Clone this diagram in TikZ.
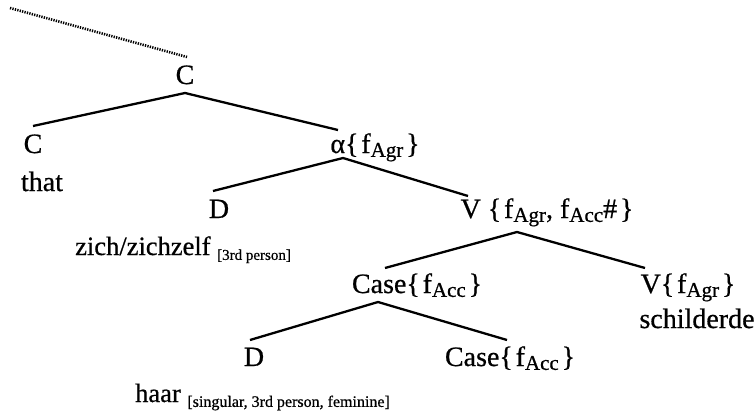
\documentclass[tikz,border=0pt]{standalone}
\usepackage{fontspec}
\setmainfont[FakeBold=0.7]{Liberation Serif}
\newcommand\sbs[1]{\raisebox{-0.3ex}{\fontsize{21}{22}\selectfont #1}}
\newcommand\annot[2]{\raisebox{-0.4ex}{\fontsize{#1}{#1}\selectfont #2}}
\newcommand\lb{\{\hspace{0.1em}}
\newcommand\rb{\hspace{0.1em}\}}
\begin{document}
\begin{tikzpicture}[x=1pt,y=-1pt,
  lab/.style={anchor=base,inner sep=0pt,font=\fontsize{28}{30}\selectfont},
  labw/.style={anchor=base west,inner sep=0pt,font=\fontsize{26.5}{29}\selectfont},
  branch/.style={line width=2.3pt},
  dots/.style={line width=2.6pt,dash pattern=on 1.3pt off 1.2pt}]
\useasboundingbox (0,0) rectangle (754,415);
% labels
\node[lab] (C0) at (185,84) {C};
\node[lab] (C1) at (33,153) {C};
\node[lab] (that) at (42,191) {that};
\node[lab] (al) at (375,153) {α\lb f\sbs{Agr}\rb};
\node[lab] (D1) at (219,218) {D};
\node[labw] (zich) at (75,255) {zich/zichzelf \annot{15}{[3rd person]}};
\node[lab] (V1) at (547,218) {V \lb f\sbs{Agr}, f\sbs{Acc}\#\rb};
\node[lab] (Case1) at (417,293) {Case\lb f\sbs{Acc}\rb};
\node[lab] (V2) at (688,293) {V\lb f\sbs{Agr}\rb};
\node[lab] (sch) at (697,328) {schilderde};
\node[lab] (D2) at (254,366) {D};
\node[lab] (Case2) at (510,366) {Case\lb f\sbs{Acc}\rb};
\node[labw] (haar) at (135,402) {haar \annot{16}{[singular, 3rd person, feminine]}};
% branch points
\coordinate (top) at (10,8);
\coordinate (c0in) at (187,57);
\coordinate (c0t) at (185,93);
\coordinate (c1e) at (33,126);
\coordinate (ale) at (338,130);
\coordinate (alt) at (343,158);
\coordinate (d1e) at (213,191);
\coordinate (v1e) at (468,196);
\coordinate (v1t) at (517,232);
\coordinate (cae) at (385,268);
\coordinate (v2e) at (645,268);
\coordinate (cat) at (378,302);
\coordinate (d2e) at (250,340);
\coordinate (c2e) at (507,340);
% lines
\draw[dots] (top) -- (c0in);
\draw[branch] (c1e) -- (c0t) -- (ale);
\draw[branch] (d1e) -- (alt) -- (v1e);
\draw[branch] (cae) -- (v1t) -- (v2e);
\draw[branch] (d2e) -- (cat) -- (c2e);
\end{tikzpicture}
\end{document}
